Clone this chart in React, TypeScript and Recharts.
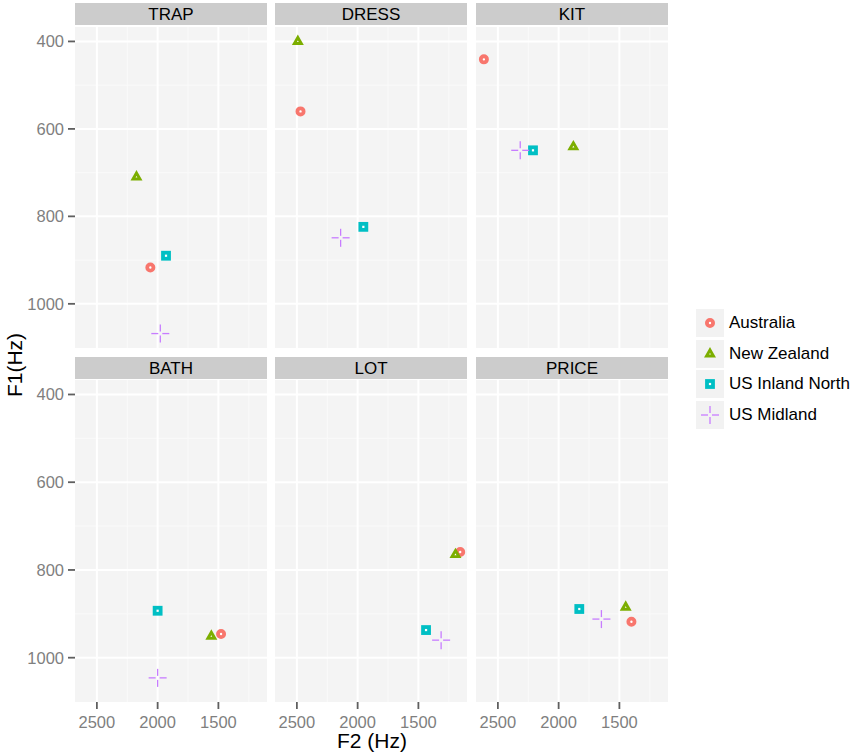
import React from "react";
import {
  ScatterChart,
  Scatter,
  XAxis,
  YAxis,
  CartesianGrid,
  ReferenceLine,
} from "recharts";

const VOWELS = ["TRAP", "DRESS", "KIT", "BATH", "LOT", "PRICE"];
const DIALECTS = ["Australia", "New Zealand", "US Inland North", "US Midland"];
const COLORS = ["#F8766D", "#7CAE00", "#00BFC4", "#C77CFF"];

// formant values in Hz, same order as VOWELS
const AUS_F2 = [2060, 2470, 2615, 1478, 1156, 1401];
const AUS_F1 = [917, 560, 441, 946, 759, 918];
const NZ_F2 = [2174, 2492, 1879, 1558, 1195, 1448];
const NZ_F1 = [710, 400, 641, 951, 765, 885];
const INL_F2 = [1931, 1953, 2211, 2000, 1437, 1830];
const INL_F1 = [890, 824, 649, 893, 937, 889];
const MID_F2 = [1978, 2140, 2316, 2000, 1313, 1648];
const MID_F1 = [1068, 849, 649, 1046, 960, 912];

const F2_TICKS = [2500, 2000, 1500];
const F2_MINOR = [2250, 1750, 1250];
const F1_TICKS = [400, 600, 800, 1000];
const F1_MINOR = [500, 700, 900];

const F2_SERIES = [AUS_F2, NZ_F2, INL_F2, MID_F2];
const F1_SERIES = [AUS_F1, NZ_F1, INL_F1, MID_F1];

const F2_DOMAIN = [1100, 2680];
const F1_DOMAIN = [367, 1101];

const FONT = '"Liberation Sans", Arial, Helvetica, sans-serif';
const PANEL_W = 192;
const PANEL_H = [321, 322];
const PANEL_TOP = [27, 380];
const STRIP_TOP = [3, 357];
const COL_X = [75, 275, 476];
const Y_AXIS_W = 75;
const X_AXIS_H = 36;
const AXIS_GREY = "#7F7F7F";
const TICK_GREY = "#5F5F5F";

function Marker({ kind, cx, cy, color }: { kind: number; cx: number; cy: number; color: string }) {
  if (kind === 0) {
    return <circle cx={cx} cy={cy} r={3.1} fill="#fff" stroke={color} strokeWidth={3.8} />;
  }
  if (kind === 1) {
    const R = 4;
    const pts = `${cx},${cy - R} ${cx + R * 0.866},${cy + R / 2} ${cx - R * 0.866},${cy + R / 2}`;
    return <polygon points={pts} fill="#fff" stroke={color} strokeWidth={2.9} />;
  }
  if (kind === 2) {
    return <rect x={cx - 3} y={cy - 3} width={6} height={6} fill="#fff" stroke={color} strokeWidth={3.8} />;
  }
  const a = 9;
  const g = 2;
  return (
    <g stroke={color} strokeWidth={1.3}>
      <line x1={cx - a} y1={cy} x2={cx - g} y2={cy} />
      <line x1={cx + g} y1={cy} x2={cx + a} y2={cy} />
      <line x1={cx} y1={cy - a} x2={cx} y2={cy - g} />
      <line x1={cx} y1={cy + g} x2={cx} y2={cy + a} />
    </g>
  );
}

function Panel({ idx }: { idx: number }) {
  const col = idx % 3;
  const row = Math.floor(idx / 3);
  const left = col === 0;
  const bottom = row === 1;
  const w = PANEL_W + (left ? Y_AXIS_W : 0);
  const h = PANEL_H[row] + (bottom ? X_AXIS_H : 0);

  return (
    <div
      style={{
        position: "absolute",
        left: COL_X[col] - (left ? Y_AXIS_W : 0),
        top: PANEL_TOP[row],
      }}
    >
      <ScatterChart width={w} height={h} margin={{ top: 0, right: 0, bottom: 0, left: 0 }}>
        <CartesianGrid fill="#F4F4F4" horizontal={false} vertical={false} />
        {F2_MINOR.map((v) => (
          <ReferenceLine key={"xm" + v} x={v} stroke="#FAFAFA" strokeWidth={1} />
        ))}
        {F1_MINOR.map((v) => (
          <ReferenceLine key={"ym" + v} y={v} stroke="#FAFAFA" strokeWidth={1} />
        ))}
        {F2_TICKS.map((v) => (
          <ReferenceLine key={"x" + v} x={v} stroke="#FFFFFF" strokeWidth={2} />
        ))}
        {F1_TICKS.map((v) => (
          <ReferenceLine key={"y" + v} y={v} stroke="#FFFFFF" strokeWidth={2} />
        ))}
        <XAxis
          type="number"
          dataKey="f2"
          domain={F2_DOMAIN}
          reversed
          allowDataOverflow
          ticks={F2_TICKS}
          interval={0}
          hide={!bottom}
          height={X_AXIS_H}
          axisLine={false}
          tickLine={{ stroke: TICK_GREY, strokeWidth: 1.8 }}
          tickSize={7}
          tickMargin={7}
          tick={{ fontSize: 16.5, fill: AXIS_GREY }}
        />
        <YAxis
          type="number"
          dataKey="f1"
          domain={F1_DOMAIN}
          reversed
          allowDataOverflow
          ticks={F1_TICKS}
          interval={0}
          hide={!left}
          width={Y_AXIS_W}
          axisLine={false}
          tickLine={{ stroke: TICK_GREY, strokeWidth: 1.8 }}
          tickSize={7}
          tickMargin={4}
          tick={{ fontSize: 16.5, fill: AXIS_GREY }}
        />
        {DIALECTS.map((d, s) => (
          <Scatter
            key={d}
            name={d}
            data={[{ f2: F2_SERIES[s][idx], f1: F1_SERIES[s][idx] }]}
            isAnimationActive={false}
            shape={(p: any) => <Marker kind={s} cx={p.cx} cy={p.cy} color={COLORS[s]} />}
          />
        ))}
      </ScatterChart>
    </div>
  );
}

function Strip({ idx }: { idx: number }) {
  const col = idx % 3;
  const row = Math.floor(idx / 3);
  return (
    <div
      style={{
        position: "absolute",
        left: COL_X[col],
        top: STRIP_TOP[row],
        width: PANEL_W,
        height: 22,
        background: "#CCCCCC",
        color: "#000",
        fontSize: 17,
        lineHeight: "23px",
        textAlign: "center",
      }}
    >
      {VOWELS[idx]}
    </div>
  );
}

function Legend() {
  return (
    <div style={{ position: "absolute", left: 696, top: 309 }}>
      {DIALECTS.map((d, s) => (
        <div key={d} style={{ display: "flex", alignItems: "center", height: 28, marginBottom: 2.5 }}>
          <svg width={28} height={28} style={{ background: "#F2F2F2", display: "block" }}>
            <Marker kind={s} cx={14} cy={14} color={COLORS[s]} />
          </svg>
          <span style={{ marginLeft: 5, fontSize: 17, color: "#000", whiteSpace: "nowrap" }}>{d}</span>
        </div>
      ))}
    </div>
  );
}

export default function App() {
  return (
    <div
      style={{
        position: "absolute",
        left: 0,
        top: 0,
        width: 851,
        height: 756,
        background: "#fff",
        fontFamily: FONT,
        overflow: "hidden",
      }}
    >
      {VOWELS.map((v, i) => (
        <Strip key={"s" + v} idx={i} />
      ))}
      {VOWELS.map((v, i) => (
        <Panel key={"p" + v} idx={i} />
      ))}
      <Legend />
      <div
        style={{
          position: "absolute",
          left: 272,
          width: 200,
          top: 729,
          textAlign: "center",
          fontSize: 21,
          color: "#000",
        }}
      >
        F2 (Hz)
      </div>
      <div
        style={{
          position: "absolute",
          left: 15,
          top: 365,
          transform: "translate(-50%, -50%) rotate(-90deg)",
          fontSize: 21,
          color: "#000",
          whiteSpace: "nowrap",
        }}
      >
        F1(Hz)
      </div>
    </div>
  );
}
